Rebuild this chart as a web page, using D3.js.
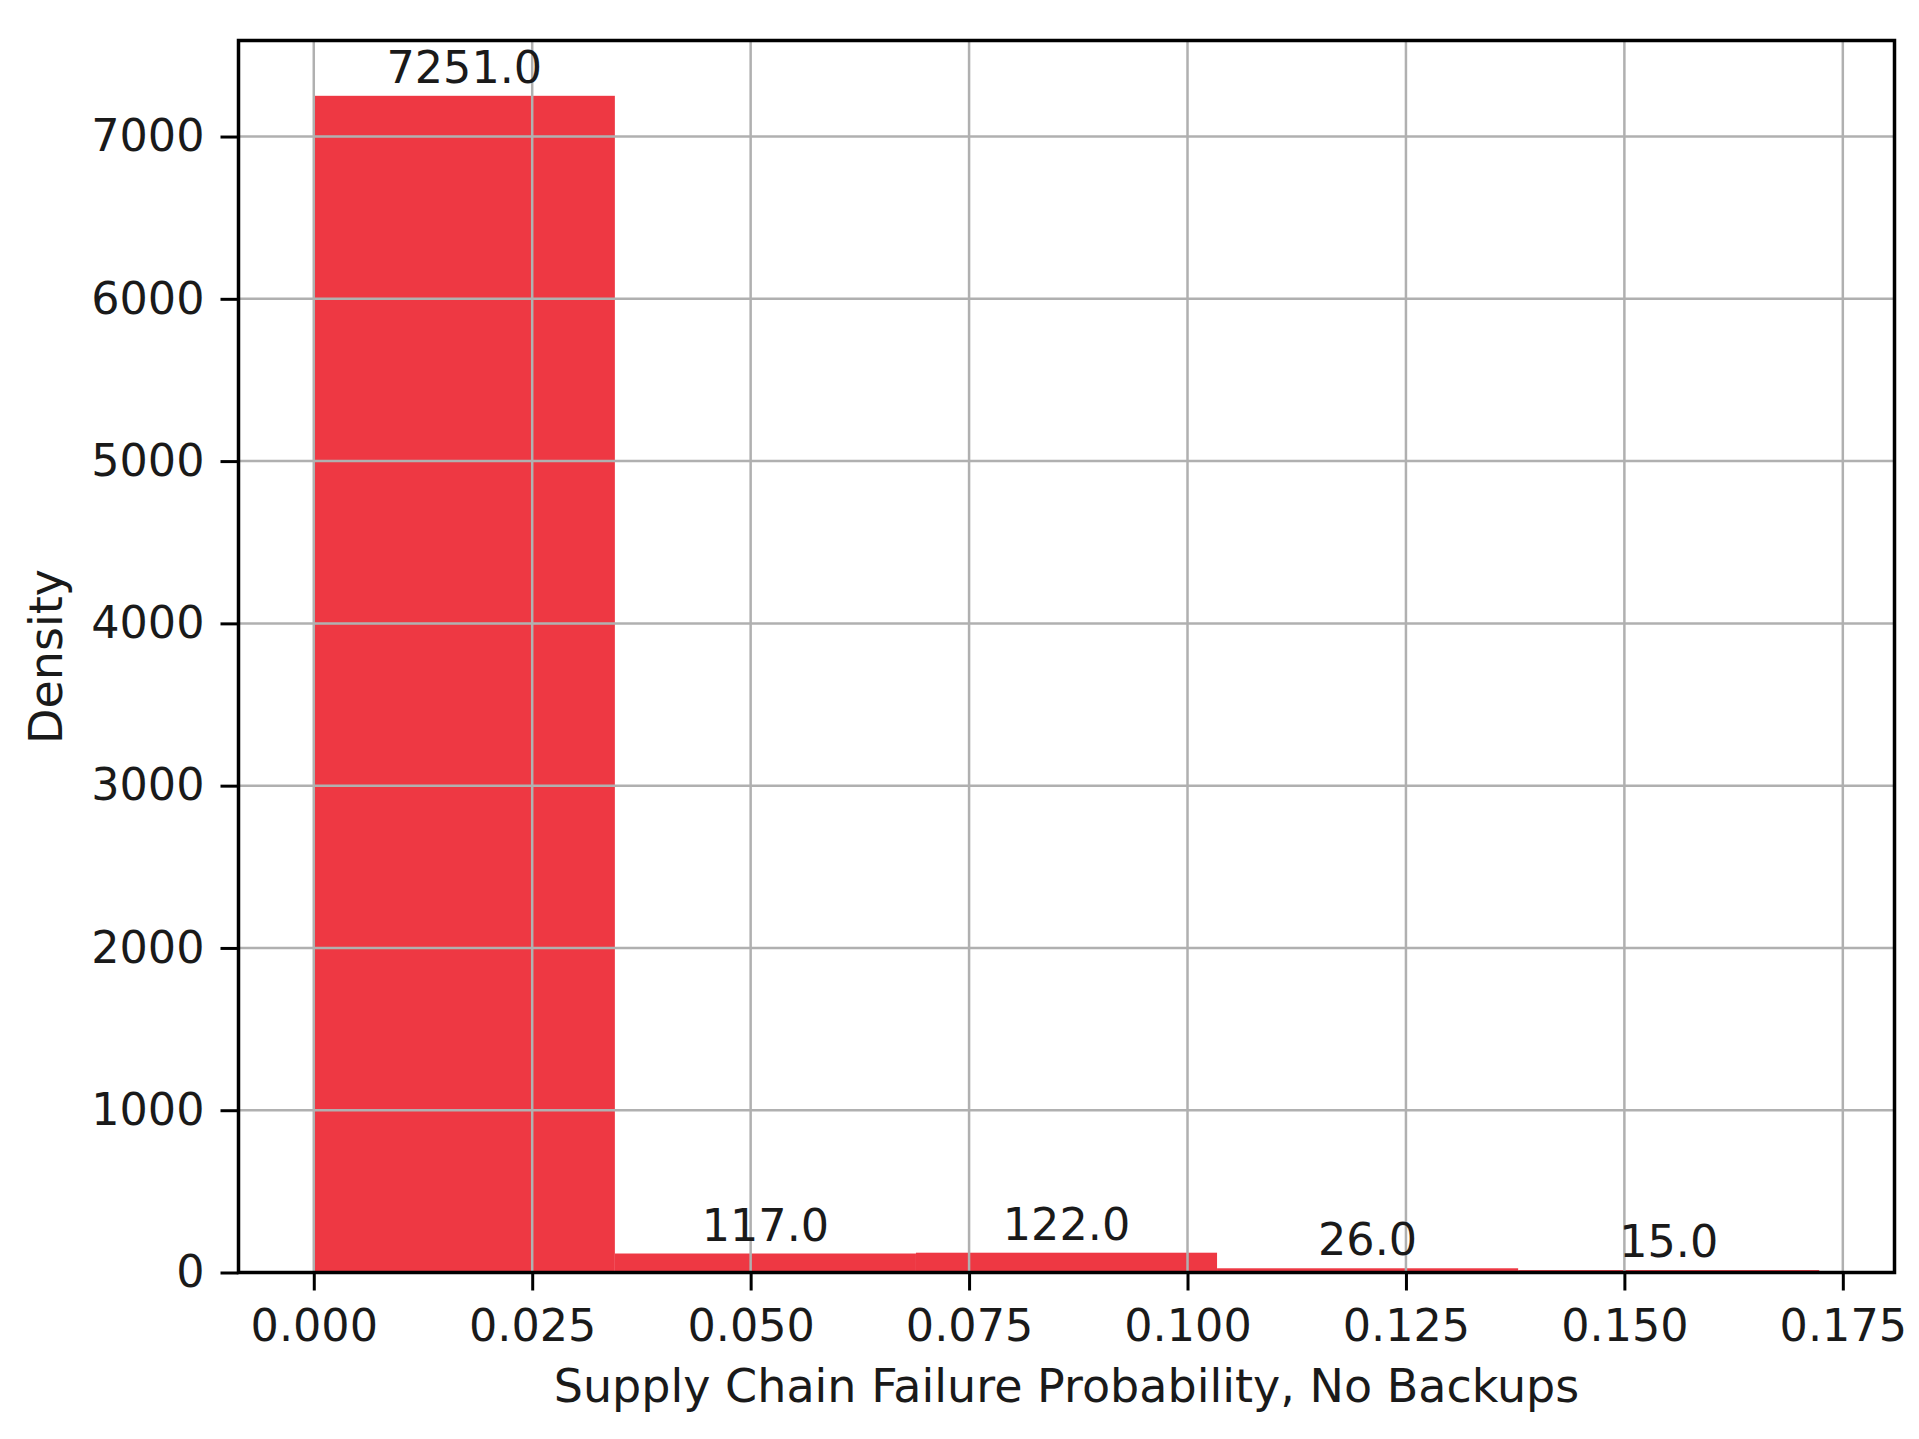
<!DOCTYPE html>
<html>
<head>
<meta charset="utf-8">
<script src="https://cdn.jsdelivr.net/npm/d3@7"></script>
<style>
  body { margin: 0; background: #fff; }
  text { font-family: "DejaVu Sans", sans-serif; fill: #1a1a1a; }
</style>
</head>
<body>
<div class="chart"></div>
<script>
// histogram bins (edges) and density per bin
var binEdges = [0, 0.03446, 0.06892, 0.10338, 0.13784, 0.1723];
var densities = [7251, 117, 122, 26, 15];
var xTicks = [0, 0.025, 0.05, 0.075, 0.1, 0.125, 0.15, 0.175];
var yTicks = [0, 1000, 2000, 3000, 4000, 5000, 6000, 7000];

function loadChart(){
  drawHistogram();
}

function drawHistogram(){
  var width = 1919, height = 1439;
  var left = 238.5, right = 1894.5, top = 40.5, bottom = 1272.5;
  var tickFont = 44.5, labelFont = 46;

  var svg = d3.select(".chart").append("svg")
              .attr("width", width)
              .attr("height", height);

  var span = binEdges[binEdges.length - 1] - binEdges[0];
  var x = d3.scaleLinear()
            .domain([binEdges[0] - span * 0.05, binEdges[binEdges.length - 1] + span * 0.05])
            .range([left, right]);
  var y = d3.scaleLinear()
            .domain([0, d3.max(densities) * 1.047])
            .range([bottom, top]);

  var bins = densities.map(function (d, i) {
    return { x0: binEdges[i], x1: binEdges[i + 1], value: d };
  });

  // bars
  svg.append("g").selectAll("rect")
     .data(bins)
     .enter()
     .append("rect")
     .attr("x", function (d) { return x(d.x0); })
     .attr("y", function (d) { return y(d.value); })
     .attr("width", function (d) { return x(d.x1) - x(d.x0); })
     .attr("height", function (d) { return y(0) - y(d.value); })
     .style("fill", "#ee3843");

  // grid drawn over the bars
  var grid = svg.append("g");
  grid.selectAll("line.vx")
      .data(xTicks)
      .enter()
      .append("line")
      .attr("x1", function (d) { return x(d); })
      .attr("x2", function (d) { return x(d); })
      .attr("y1", top)
      .attr("y2", bottom)
      .style("stroke", "#b0b0b0")
      .style("stroke-width", 2.5);
  grid.selectAll("line.hy")
      .data(yTicks)
      .enter()
      .append("line")
      .attr("x1", left)
      .attr("x2", right)
      .attr("y1", function (d) { return y(d); })
      .attr("y2", function (d) { return y(d); })
      .style("stroke", "#b0b0b0")
      .style("stroke-width", 2.5);

  // axes
  var xAxis = d3.axisBottom(x)
                .tickValues(xTicks)
                .tickFormat(d3.format(".3f"))
                .tickSize(18)
                .tickPadding(19);
  var gx = svg.append("g")
              .attr("transform", "translate(0," + bottom + ")")
              .call(xAxis);

  var yAxis = d3.axisLeft(y)
                .tickValues(yTicks)
                .tickFormat(d3.format("d"))
                .tickSize(18)
                .tickPadding(16);
  var gy = svg.append("g")
              .attr("transform", "translate(" + left + ",0)")
              .call(yAxis);

  [gx, gy].forEach(function (g) {
    g.select(".domain").remove();
    g.selectAll(".tick line").style("stroke", "#000").style("stroke-width", 3);
    g.selectAll(".tick text")
     .style("font-size", tickFont + "px")
     .style("font-family", "DejaVu Sans, sans-serif")
     .style("fill", "#1a1a1a");
  });

  // frame
  svg.append("rect")
     .attr("x", left)
     .attr("y", top)
     .attr("width", right - left)
     .attr("height", bottom - top)
     .style("fill", "none")
     .style("stroke", "#000")
     .style("stroke-width", 3.5);

  // bar labels
  svg.append("g").selectAll("text")
     .data(bins)
     .enter()
     .append("text")
     .attr("x", function (d) { return x((d.x0 + d.x1) / 2); })
     .attr("y", function (d) { return y(d.value) - 13; })
     .attr("text-anchor", "middle")
     .style("font-size", tickFont + "px")
     .text(function (d) { return d.value.toFixed(1); });

  // axis titles
  svg.append("text")
     .attr("x", (left + right) / 2)
     .attr("y", 1402)
     .attr("text-anchor", "middle")
     .style("font-size", labelFont + "px")
     .text("Supply Chain Failure Probability, No Backups");

  svg.append("text")
     .attr("transform", "translate(62," + ((top + bottom) / 2) + ") rotate(-90)")
     .attr("text-anchor", "middle")
     .style("font-size", labelFont + "px")
     .text("Density");
}

loadChart();
</script>
</body>
</html>
